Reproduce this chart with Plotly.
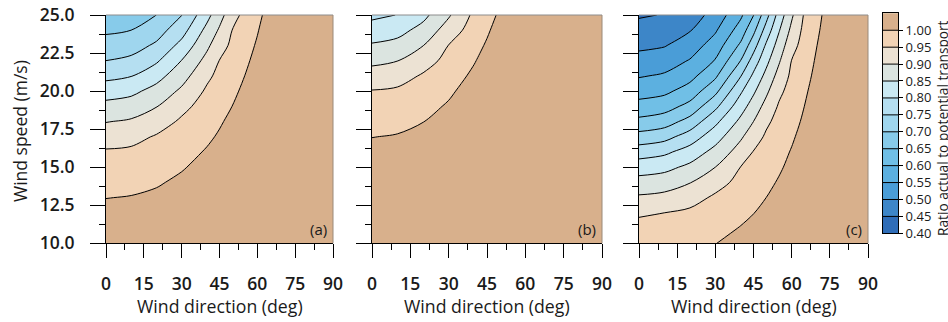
import plotly.graph_objects as go

# ---------------- data ----------------
direction_deg = [0, 10, 20, 30, 40, 45, 50, 55, 60, 65, 70, 80, 90]
speed_ms = [10, 11, 12, 13, 14, 15, 16, 17, 18, 19, 20, 21, 22, 23, 24, 25]

# ratio actual/potential transport, rows = wind speed, cols = wind direction
ratio_a = [
    [1.043, 1.045, 1.050, 1.050, 1.050, 1.050, 1.050, 1.050, 1.050, 1.050, 1.050, 1.050, 1.050],
    [1.029, 1.031, 1.037, 1.048, 1.050, 1.050, 1.050, 1.050, 1.050, 1.050, 1.050, 1.050, 1.050],
    [1.014, 1.016, 1.023, 1.035, 1.050, 1.050, 1.050, 1.050, 1.050, 1.050, 1.050, 1.050, 1.050],
    [0.999, 1.002, 1.009, 1.022, 1.039, 1.049, 1.050, 1.050, 1.050, 1.050, 1.050, 1.050, 1.050],
    [0.984, 0.987, 0.995, 1.009, 1.027, 1.038, 1.050, 1.050, 1.050, 1.050, 1.050, 1.050, 1.050],
    [0.970, 0.973, 0.981, 0.996, 1.015, 1.027, 1.040, 1.050, 1.050, 1.050, 1.050, 1.050, 1.050],
    [0.955, 0.958, 0.967, 0.983, 1.004, 1.016, 1.030, 1.045, 1.050, 1.050, 1.050, 1.050, 1.050],
    [0.929, 0.936, 0.954, 0.970, 0.992, 1.005, 1.020, 1.036, 1.050, 1.050, 1.050, 1.050, 1.050],
    [0.898, 0.906, 0.928, 0.957, 0.980, 0.995, 1.010, 1.027, 1.045, 1.050, 1.050, 1.050, 1.050],
    [0.865, 0.873, 0.898, 0.937, 0.969, 0.984, 1.000, 1.018, 1.037, 1.050, 1.050, 1.050, 1.050],
    [0.827, 0.838, 0.867, 0.909, 0.957, 0.973, 0.990, 1.009, 1.029, 1.050, 1.050, 1.050, 1.050],
    [0.787, 0.798, 0.832, 0.880, 0.940, 0.962, 0.980, 1.000, 1.021, 1.044, 1.050, 1.050, 1.050],
    [0.750, 0.761, 0.793, 0.851, 0.915, 0.951, 0.970, 0.991, 1.013, 1.037, 1.050, 1.050, 1.050],
    [0.720, 0.729, 0.758, 0.815, 0.890, 0.929, 0.960, 0.982, 1.005, 1.030, 1.050, 1.050, 1.050],
    [0.692, 0.700, 0.728, 0.780, 0.864, 0.906, 0.950, 0.973, 0.997, 1.024, 1.050, 1.050, 1.050],
    [0.666, 0.674, 0.700, 0.748, 0.834, 0.882, 0.929, 0.964, 0.989, 1.016, 1.046, 1.050, 1.050],
]

ratio_b = [
    [1.050, 1.050, 1.050, 1.050, 1.050, 1.050, 1.050, 1.050, 1.050, 1.050, 1.050, 1.050, 1.050],
    [1.050, 1.050, 1.050, 1.050, 1.050, 1.050, 1.050, 1.050, 1.050, 1.050, 1.050, 1.050, 1.050],
    [1.050, 1.050, 1.050, 1.050, 1.050, 1.050, 1.050, 1.050, 1.050, 1.050, 1.050, 1.050, 1.050],
    [1.050, 1.050, 1.050, 1.050, 1.050, 1.050, 1.050, 1.050, 1.050, 1.050, 1.050, 1.050, 1.050],
    [1.046, 1.049, 1.050, 1.050, 1.050, 1.050, 1.050, 1.050, 1.050, 1.050, 1.050, 1.050, 1.050],
    [1.030, 1.033, 1.043, 1.050, 1.050, 1.050, 1.050, 1.050, 1.050, 1.050, 1.050, 1.050, 1.050],
    [1.014, 1.018, 1.029, 1.046, 1.050, 1.050, 1.050, 1.050, 1.050, 1.050, 1.050, 1.050, 1.050],
    [0.999, 1.003, 1.014, 1.032, 1.050, 1.050, 1.050, 1.050, 1.050, 1.050, 1.050, 1.050, 1.050],
    [0.983, 0.987, 0.999, 1.019, 1.045, 1.050, 1.050, 1.050, 1.050, 1.050, 1.050, 1.050, 1.050],
    [0.968, 0.972, 0.985, 1.005, 1.033, 1.050, 1.050, 1.050, 1.050, 1.050, 1.050, 1.050, 1.050],
    [0.952, 0.957, 0.970, 0.992, 1.021, 1.039, 1.050, 1.050, 1.050, 1.050, 1.050, 1.050, 1.050],
    [0.922, 0.931, 0.955, 0.978, 1.009, 1.028, 1.048, 1.050, 1.050, 1.050, 1.050, 1.050, 1.050],
    [0.888, 0.899, 0.930, 0.964, 0.997, 1.016, 1.038, 1.050, 1.050, 1.050, 1.050, 1.050, 1.050],
    [0.855, 0.866, 0.899, 0.951, 0.985, 1.005, 1.027, 1.050, 1.050, 1.050, 1.050, 1.050, 1.050],
    [0.822, 0.833, 0.867, 0.923, 0.973, 0.994, 1.017, 1.042, 1.050, 1.050, 1.050, 1.050, 1.050],
    [0.789, 0.801, 0.836, 0.894, 0.961, 0.982, 1.007, 1.033, 1.050, 1.050, 1.050, 1.050, 1.050],
]

ratio_c = [
    [0.980, 0.982, 0.989, 0.999, 1.014, 1.023, 1.033, 1.044, 1.050, 1.050, 1.050, 1.050, 1.050],
    [0.964, 0.966, 0.973, 0.985, 1.002, 1.011, 1.022, 1.034, 1.046, 1.050, 1.050, 1.050, 1.050],
    [0.944, 0.950, 0.958, 0.971, 0.989, 0.999, 1.011, 1.024, 1.038, 1.050, 1.050, 1.050, 1.050],
    [0.907, 0.914, 0.933, 0.957, 0.976, 0.988, 1.000, 1.014, 1.029, 1.045, 1.050, 1.050, 1.050],
    [0.868, 0.876, 0.898, 0.933, 0.963, 0.976, 0.989, 1.004, 1.020, 1.037, 1.050, 1.050, 1.050],
    [0.827, 0.836, 0.861, 0.900, 0.951, 0.964, 0.978, 0.994, 1.011, 1.030, 1.049, 1.050, 1.050],
    [0.777, 0.790, 0.821, 0.866, 0.922, 0.952, 0.968, 0.985, 1.003, 1.022, 1.043, 1.050, 1.050],
    [0.719, 0.733, 0.773, 0.829, 0.893, 0.928, 0.957, 0.975, 0.994, 1.015, 1.037, 1.050, 1.050],
    [0.663, 0.677, 0.718, 0.788, 0.862, 0.900, 0.941, 0.965, 0.985, 1.007, 1.031, 1.050, 1.050],
    [0.617, 0.629, 0.665, 0.738, 0.829, 0.872, 0.916, 0.955, 0.977, 1.000, 1.025, 1.050, 1.050],
    [0.580, 0.589, 0.621, 0.687, 0.793, 0.842, 0.890, 0.939, 0.968, 0.993, 1.018, 1.050, 1.050],
    [0.546, 0.556, 0.584, 0.641, 0.748, 0.810, 0.864, 0.917, 0.960, 0.985, 1.012, 1.050, 1.050],
    [0.517, 0.526, 0.553, 0.603, 0.701, 0.772, 0.836, 0.894, 0.951, 0.978, 1.006, 1.050, 1.050],
    [0.490, 0.497, 0.524, 0.573, 0.659, 0.729, 0.807, 0.871, 0.932, 0.970, 1.000, 1.050, 1.050],
    [0.467, 0.475, 0.497, 0.544, 0.623, 0.687, 0.770, 0.846, 0.912, 0.963, 0.994, 1.050, 1.050],
    [0.445, 0.452, 0.475, 0.518, 0.591, 0.648, 0.731, 0.820, 0.892, 0.955, 0.988, 1.050, 1.050],
]

panel_labels = ["(a)", "(b)", "(c)"]

# contour levels and colour key
level_start = 0.3999
level_end = 0.9999
level_step = 0.05
scale_range = [0.40, 1.05]
band_colors = [
    "#2f6db8",  # below 0.40
    "#2f6db8",  # 0.40-0.45
    "#3d86c8",  # 0.45-0.50
    "#4a9dd7",  # 0.50-0.55
    "#5cb0e0",  # 0.55-0.60
    "#70bfe6",  # 0.60-0.65
    "#87cbea",  # 0.65-0.70
    "#9fd6ee",  # 0.70-0.75
    "#b5dff1",  # 0.75-0.80
    "#cae9f3",  # 0.80-0.85
    "#dbe4e0",  # 0.85-0.90
    "#ece2d3",  # 0.90-0.95
    "#f2d3b5",  # 0.95-1.00
    "#d8b08c",  # 1.00 and above
]
colorbar_ticks = [0.40, 0.45, 0.50, 0.55, 0.60, 0.65, 0.70, 0.75, 0.80, 0.85, 0.90, 0.95, 1.00]
colorbar_labels = ["%.2f" % v for v in colorbar_ticks]

x_ticks = [0, 15, 30, 45, 60, 75, 90]
x_minor = [7.5, 22.5, 37.5, 52.5, 67.5, 82.5]
y_ticks = [10.0, 12.5, 15.0, 17.5, 20.0, 22.5, 25.0]
y_labels = ["10.0", "12.5", "15.0", "17.5", "20.0", "22.5", "25.0"]
y_minor = [11.25, 13.75, 16.25, 18.75, 21.25, 23.75]

# ---------------- layout geometry (pixels) ----------------
W, H = 948, 322
def px(x):
    return x / W
def py(y):
    return 1 - y / H

panel_px = [(106, 333), (372, 602), (639, 868)]
plot_top, plot_bottom = 15, 243.3
cbar_px = (883, 898)
cbar_top, cbar_bottom = 13.3, 233.3

nb = len(band_colors) - 1
colorscale = [[i / nb, c] for i, c in enumerate(band_colors)]

FONT = "Open Sans"
fig = go.Figure()

datasets = [ratio_a, ratio_b, ratio_c]
for i, z in enumerate(datasets):
    sfx = "" if i == 0 else str(i + 1)
    fig.add_trace(go.Contour(
        x=direction_deg, y=speed_ms, z=z,
        xaxis="x" + sfx, yaxis="y" + sfx,
        autocontour=False,
        contours=dict(start=level_start, end=level_end, size=level_step,
                      coloring="fill", showlines=True),
        line=dict(color="black", width=1, smoothing=0.9),
        colorscale=colorscale, showscale=False, hoverinfo="skip",
    ))

# colour key drawn as its own contour strip
fig.add_trace(go.Contour(
    x=[0, 1], y=scale_range, z=[[scale_range[0]] * 2, [scale_range[1]] * 2],
    xaxis="x4", yaxis="y4", autocontour=False,
    contours=dict(start=level_start, end=level_end, size=level_step,
                  coloring="fill", showlines=True),
    line=dict(color="black", width=1, smoothing=0),
    colorscale=colorscale, showscale=False, hoverinfo="skip",
))

tickfont = dict(family=FONT, size=17.5, color="#1a1a1a", weight=600)
layout = dict(
    template="none",
    width=W, height=H, margin=dict(l=0, r=0, t=0, b=0, pad=0, autoexpand=False),
    paper_bgcolor="white", plot_bgcolor="white", showlegend=False,
    font=dict(family=FONT, color="#1a1a1a"),
)
shapes = []
annotations = []
for i, (x0, x1) in enumerate(panel_px):
    sfx = "" if i == 0 else str(i + 1)
    layout["xaxis" + sfx] = dict(
        domain=[px(x0), px(x1)], range=[0, 90], anchor="y" + sfx,
        automargin=False,
        tickmode="array", tickvals=x_ticks, ticks="outside", ticklen=14,
        tickwidth=1, tickcolor="black", showline=True, linecolor="black",
        linewidth=1, showgrid=False, zeroline=False, tickfont=tickfont,
        ticklabelstandoff=11,
        minor=dict(tickmode="array", tickvals=x_minor, ticks="outside",
                   ticklen=6, tickcolor="black", tickwidth=1, showgrid=False),
        fixedrange=True,
    )
    layout["yaxis" + sfx] = dict(
        domain=[py(plot_bottom), py(plot_top)], range=[10, 25], anchor="x" + sfx,
        automargin=False,
        tickmode="array", tickvals=y_ticks, ticktext=y_labels,
        showticklabels=(i == 0), ticks="outside", ticklen=15, tickwidth=1,
        tickcolor="black", showline=True, linecolor="black", linewidth=1,
        showgrid=False, zeroline=False, tickfont=tickfont,
        ticklabelstandoff=12,
        minor=dict(tickmode="array", tickvals=y_minor, ticks="outside",
                   ticklen=6, tickcolor="black", tickwidth=1, showgrid=False),
        fixedrange=True,
    )
    xr, yr = "x" + sfx + " domain", "y" + sfx + " domain"
    shapes.append(dict(type="line", xref=xr, yref=yr, x0=0, x1=1, y0=1, y1=1,
                       line=dict(color="#8c8c8c", width=1)))
    shapes.append(dict(type="line", xref=xr, yref=yr, x0=1, x1=1, y0=0, y1=1,
                       line=dict(color="#9a8a7a", width=1)))
    annotations.append(dict(
        text="Wind direction (deg)", xref="paper", yref="paper",
        x=px((x0 + x1) / 2), y=py(306), xanchor="center", yanchor="middle",
        showarrow=False, font=dict(family=FONT, size=17.7, color="#1a1a1a")))
    annotations.append(dict(
        text=panel_labels[i], xref="paper", yref="paper",
        x=px(x1 - 4), y=py(229), xanchor="right", yanchor="middle",
        showarrow=False, font=dict(family=FONT, size=15, color="#1a1a1a")))

layout["xaxis4"] = dict(domain=[px(cbar_px[0]), px(cbar_px[1])], range=[0, 1],
                        anchor="y4", automargin=False, showticklabels=False, ticks="",
                        showline=True, mirror=True, linecolor="black",
                        showgrid=False, zeroline=False, fixedrange=True)
layout["yaxis4"] = dict(domain=[py(cbar_bottom), py(cbar_top)], range=scale_range,
                        anchor="x4", automargin=False, side="right", tickmode="array",
                        tickvals=colorbar_ticks, ticktext=colorbar_labels,
                        ticks="outside", ticklen=4, tickcolor="black",
                        showline=True, mirror=True, linecolor="black",
                        showgrid=False, zeroline=False, ticklabelstandoff=0,
                        tickfont=dict(family=FONT, size=13, color="#1a1a1a"),
                        fixedrange=True)

annotations.append(dict(
    text="Wind speed (m/s)", xref="paper", yref="paper", x=px(20), y=py(131),
    xanchor="center", yanchor="middle", textangle=-90, showarrow=False,
    font=dict(family=FONT, size=17.5, color="#1a1a1a")))
annotations.append(dict(
    text="Ratio actual to potential transport", xref="paper", yref="paper",
    x=px(943), y=py(128), xanchor="center", yanchor="middle", textangle=-90,
    showarrow=False, font=dict(family=FONT, size=13.7, color="#1a1a1a")))

layout["shapes"] = shapes
layout["annotations"] = annotations
fig.update_layout(**layout)

fig.write_html(
    "out.html",
    config={"displayModeBar": False, "staticPlot": True},
    post_script="document.body.style.margin='0px';document.body.style.overflow='hidden';",
)
